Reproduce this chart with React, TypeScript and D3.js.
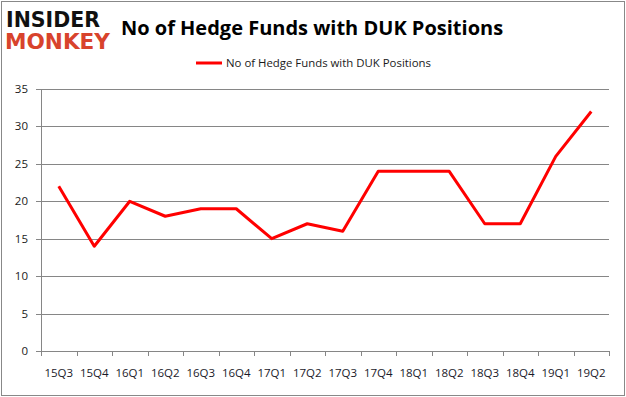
import React, { useEffect, useRef } from "react";
import * as d3 from "d3";

const categories = ["15Q3","15Q4","16Q1","16Q2","16Q3","16Q4","17Q1","17Q2","17Q3","17Q4","18Q1","18Q2","18Q3","18Q4","19Q1","19Q2"];
const values = [22,14,20,18,19,19,15,17,16,24,24,24,17,17,26,32];
const yTicks = [0,5,10,15,20,25,30,35];
const seriesName = "No of Hedge Funds with DUK Positions";
const title = "No of Hedge Funds with DUK Positions";

const W = 626, H = 397;
const M = { left: 41, right: 609, top: 89, bottom: 351 };
const FONT = "'Open Sans', 'DejaVu Sans', sans-serif";

export default function App() {
  const ref = useRef<SVGSVGElement>(null);
  useEffect(() => {
    const svg = d3.select(ref.current);
    svg.selectAll("*").remove();
    svg.append("rect").attr("x", 1.5).attr("y", 1.5).attr("width", W - 3).attr("height", H - 3)
      .attr("fill", "#fff").attr("stroke", "#888").attr("stroke-width", 1);

    const x = d3.scaleBand<string>().domain(categories).range([M.left, M.right]);
    const y = d3.scaleLinear().domain([0, 35]).range([M.bottom, M.top]);

    svg.append("g").selectAll("line").data(yTicks).join("line")
      .attr("x1", M.left).attr("x2", M.right)
      .attr("y1", d => Math.round(y(d)) + 0.5).attr("y2", d => Math.round(y(d)) + 0.5)
      .attr("stroke", "#868686").attr("stroke-width", 1);
    svg.append("line").attr("x1", M.left + 0.5).attr("x2", M.left + 0.5)
      .attr("y1", M.top).attr("y2", M.bottom + 5).attr("stroke", "#868686");
    svg.append("g").selectAll("line").data(yTicks).join("line")
      .attr("x1", M.left - 5).attr("x2", M.left)
      .attr("y1", d => Math.round(y(d)) + 0.5).attr("y2", d => Math.round(y(d)) + 0.5)
      .attr("stroke", "#868686");
    svg.append("g").selectAll("text").data(yTicks).join("text")
      .attr("x", 28).attr("y", d => y(d) + 4)
      .attr("text-anchor", "end").attr("font-size", 11.5).attr("font-family", FONT)
      .attr("fill", "#1a1a1a").text(d => d);
    const xt = categories.map(c => x(c) as number).concat([M.right]);
    svg.append("g").selectAll("line").data(xt).join("line")
      .attr("x1", d => Math.round(d) + 0.5).attr("x2", d => Math.round(d) + 0.5)
      .attr("y1", M.bottom).attr("y2", M.bottom + 5).attr("stroke", "#868686");
    svg.append("g").selectAll("text").data(categories).join("text")
      .attr("x", d => (x(d) as number) + x.bandwidth() / 2).attr("y", 377)
      .attr("text-anchor", "middle").attr("font-size", 11.5).attr("font-family", FONT)
      .attr("fill", "#1a1a2a").text(d => d);

    const line = d3.line<number>()
      .x((_, i) => (x(categories[i]) as number) + x.bandwidth() / 2)
      .y(d => y(d));
    svg.append("path").datum(values).attr("d", line).attr("fill", "none")
      .attr("stroke", "#ff0000").attr("stroke-width", 3).attr("stroke-linejoin", "round");

    svg.append("text").attr("x", 312).attr("y", 35).attr("text-anchor", "middle")
      .attr("font-size", 20).attr("font-weight", "bold").attr("font-family", FONT)
      .attr("fill", "#000").text(title);

    svg.append("line").attr("x1", 196).attr("x2", 222).attr("y1", 63).attr("y2", 63)
      .attr("stroke", "#ff0000").attr("stroke-width", 3);
    svg.append("text").attr("x", 226).attr("y", 67).attr("font-size", 11.4).attr("font-family", FONT)
      .attr("fill", "#1a1a1a").text(seriesName);

    svg.append("text").attr("x", 6).attr("y", 27).attr("font-size", 21).attr("font-weight", "900")
      .attr("font-family", "'DejaVu Sans', sans-serif").attr("fill", "#111")
      .attr("textLength", 94).attr("lengthAdjust", "spacingAndGlyphs").text("INSIDER");
    svg.append("text").attr("x", 5).attr("y", 49).attr("font-size", 21).attr("font-weight", "900")
      .attr("font-family", "'DejaVu Sans', sans-serif").attr("fill", "#d8432c")
      .attr("textLength", 105).attr("lengthAdjust", "spacingAndGlyphs").text("MONKEY");
  }, []);
  return <svg ref={ref} width={W} height={H} style={{ position: "absolute", left: 0, top: 0 }} />;
}
